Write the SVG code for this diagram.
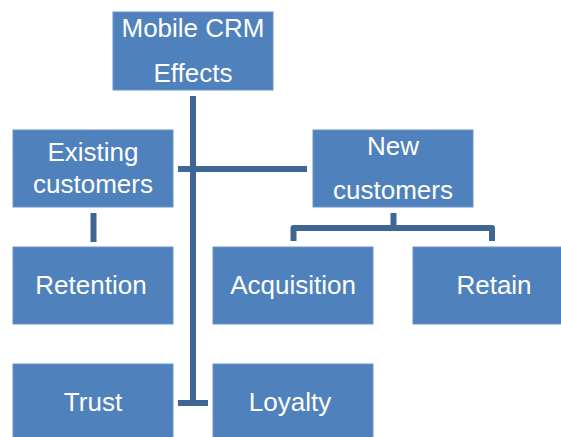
<svg xmlns="http://www.w3.org/2000/svg" width="561" height="437" viewBox="0 0 561 437">
<style>
.box{fill:#4F81BD;stroke:#6A95C9;stroke-width:1}
.t{font-family:"Liberation Sans",Arial,sans-serif;font-size:26px;fill:#FFFFFF;text-anchor:middle}
.ln{fill:none;stroke:#3F6695;stroke-width:6;stroke-linejoin:round}
</style>
<rect width="561" height="437" fill="#FFFFFF"/>
<g id="connectors">
<line class="ln" x1="193" y1="96" x2="193" y2="406"/>
<line class="ln" x1="178" y1="169" x2="307" y2="169"/>
<line class="ln" x1="178" y1="403" x2="208" y2="403"/>
<line class="ln" x1="93.5" y1="213" x2="93.5" y2="242"/>
<line class="ln" x1="393.5" y1="213" x2="393.5" y2="228"/>
<path class="ln" d="M293.5,241 V228 H492 V241"/>
</g>
<g id="n-mobile"><rect class="box" x="113" y="12" width="160" height="78"/><text class="t" x="193" y="37">Mobile CRM</text><text class="t" x="193" y="82">Effects</text></g>
<g id="n-existing"><rect class="box" x="13" y="130" width="160" height="77"/><text class="t" x="93" y="161">Existing</text><text class="t" x="93" y="193">customers</text></g>
<g id="n-new"><rect class="box" x="313" y="130" width="160" height="77"/><text class="t" x="393" y="155">New</text><text class="t" x="393" y="199">customers</text></g>
<g id="n-retention"><rect class="box" x="13" y="247" width="160" height="77"/><text class="t" x="91" y="294">Retention</text></g>
<g id="n-acquisition"><rect class="box" x="213" y="247" width="160" height="77"/><text class="t" x="293" y="294">Acquisition</text></g>
<g id="n-retain"><rect class="box" x="413" y="247" width="160" height="77"/><text class="t" x="494" y="294">Retain</text></g>
<g id="n-trust"><rect class="box" x="13" y="364" width="160" height="77"/><text class="t" x="93" y="411">Trust</text></g>
<g id="n-loyalty"><rect class="box" x="213" y="364" width="160" height="77"/><text class="t" x="290" y="411">Loyalty</text></g>
</svg>
